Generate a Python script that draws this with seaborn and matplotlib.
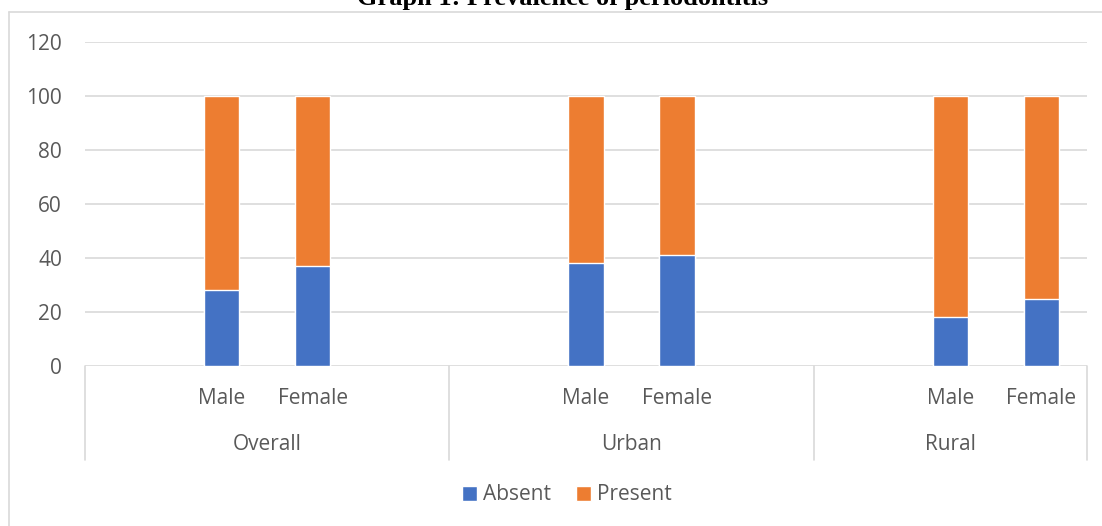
import matplotlib
matplotlib.use("Agg")
import matplotlib.pyplot as plt
import matplotlib.transforms as mtransforms
from matplotlib.lines import Line2D
from matplotlib.patches import Patch
import seaborn as sns
import pandas as pd

# Prevalence of periodontitis (%) by region and sex
groups = ["Overall", "Urban", "Rural"]
sexes = ["Male", "Female"]
absent = [28, 37, 38, 41, 18, 25]
present = [72, 63, 62, 59, 82, 75]
yticks = [0, 20, 40, 60, 80, 100, 120]

BLUE = "#4472C4"
ORANGE = "#ED7D31"
GRID = "#D9D9D9"
TEXT = "#595959"
FS = 15

sns.set_theme(style="white")
plt.rcParams["font.family"] = ["Open Sans", "DejaVu Sans"]

# Category slots: blank slots around the bars of each region
# (the last region has no trailing blank).
group_slots = {
    "Overall": ["Overall_pad0", "Overall_Male", "Overall_Female", "Overall_pad1"],
    "Urban": ["Urban_pad0", "Urban_Male", "Urban_Female", "Urban_pad1"],
    "Rural": ["Rural_pad0", "Rural_Male", "Rural_Female"],
}
slots = [s for g in groups for s in group_slots[g]]

rows = []
i = 0
for g in groups:
    for s in sexes:
        rows.append({"slot": f"{g}_{s}", "group": g, "sex": s,
                     "Absent": absent[i], "Present": present[i],
                     "Total": absent[i] + present[i]})
        i += 1
df = pd.DataFrame(rows)

fig = plt.figure(figsize=(11.02, 5.26), dpi=100)
W, H = 1102, 526
ax = fig.add_axes([85 / W, 1 - 366 / H, (1087 - 85) / W, (366 - 42) / H])

sns.barplot(data=df, x="slot", y="Total", order=slots, color=ORANGE,
            width=0.39, saturation=1, ax=ax, zorder=3)
sns.barplot(data=df, x="slot", y="Absent", order=slots, color=BLUE,
            width=0.39, saturation=1, ax=ax, zorder=3)

ax.set_ylim(0, 120)
ax.set_xlim(-0.5, len(slots) - 0.5)
ax.set_yticks(yticks)
ax.set_yticklabels([str(v) for v in yticks])
ax.set_xticks([])
ax.set_xlabel("")
ax.set_ylabel("")
ax.tick_params(axis="y", length=0, pad=16.5, labelsize=FS, labelcolor=TEXT)
for y in yticks:
    ax.axhline(y, color=GRID, lw=1.2, zorder=1)
for sp in ax.spines.values():
    sp.set_visible(False)

# Two-level category axis
trans = mtransforms.blended_transform_factory(ax.transData, ax.transAxes)
ah = 366 - 42
sep_bottom = -(460 - 366) / ah
start = -0.5
for g in groups:
    n = len(group_slots[g])
    end = start + n
    ax.add_line(Line2D([start, start], [0, sep_bottom], transform=trans, color=GRID,
                       lw=1.2, clip_on=False))
    for s in sexes:
        xpos = slots.index(f"{g}_{s}")
        ax.text(xpos, -(398 - 366) / ah, s, transform=trans,
                ha="center", va="center", fontsize=FS, color=TEXT)
    ax.text((start + end) / 2, -(444 - 366) / ah, g, transform=trans,
            ha="center", va="center", fontsize=FS, color=TEXT)
    start = end
ax.add_line(Line2D([start, start], [0, sep_bottom], transform=trans, color=GRID,
                   lw=1.2, clip_on=False))

# Chart frame (top and left edges)
fig.add_artist(Line2D([8.5 / W, 8.5 / W], [0, 1 - 12 / H], transform=fig.transFigure,
                      color=GRID, lw=1.2))
fig.add_artist(Line2D([8.5 / W, 1], [1 - 12 / H, 1 - 12 / H], transform=fig.transFigure,
                      color=GRID, lw=1.2))

# Caption above the frame
fig.text(563 / W, 1 - 5 / H, "Graph 1: Prevalence of periodontitis", ha="center",
         va="baseline", fontsize=19, fontweight="bold", color="black",
         family=["Liberation Serif", "DejaVu Serif"])

handles = [Patch(facecolor=BLUE, label="Absent"), Patch(facecolor=ORANGE, label="Present")]
leg = fig.legend(handles=handles, loc="center", bbox_to_anchor=(567 / W, 1 - 495 / H),
                 ncol=2, frameon=False, fontsize=FS, handlelength=0.7,
                 handleheight=0.7, handletextpad=0.3, columnspacing=1.2)
for t in leg.get_texts():
    t.set_color(TEXT)

fig.savefig("out.png", dpi=100)
